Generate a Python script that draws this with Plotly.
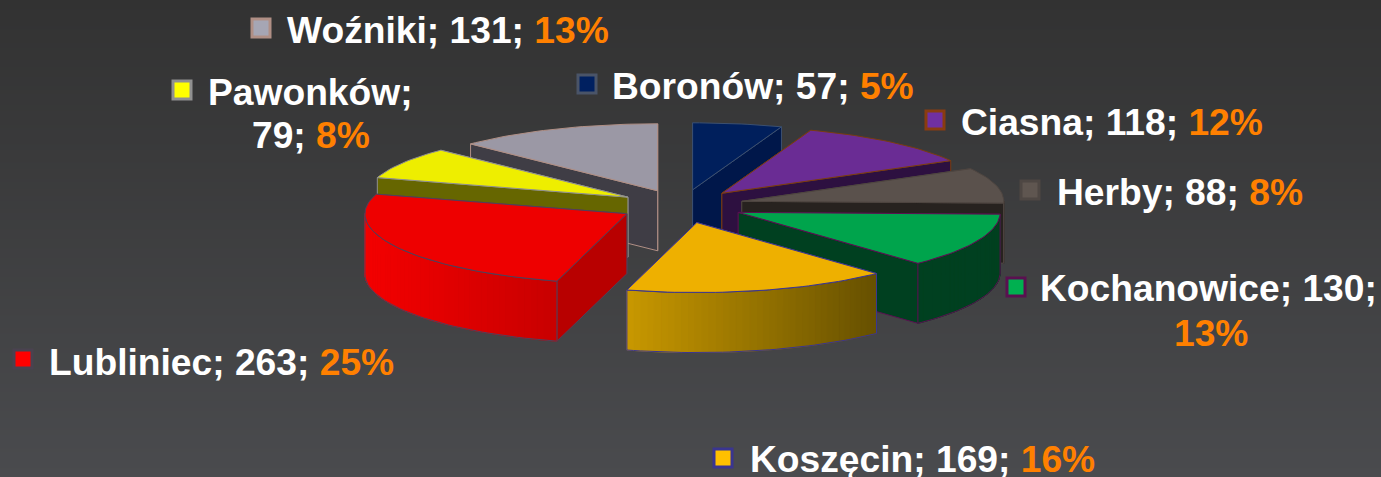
import math
import plotly.graph_objects as go

# ---------- data ----------
categories = ["Boronów", "Ciasna", "Herby", "Kochanowice", "Koszęcin", "Lubliniec", "Pawonków", "Woźniki"]
values = [57, 118, 88, 130, 169, 263, 79, 131]
percents = [5, 12, 8, 13, 16, 25, 8, 13]

# ---------- styles ----------
top_colors = ["#001f5c", "#6a2c94", "#5a514c", "#00a44c", "#eeb000", "#ee0000", "#eeee00", "#9b98a5"]
cut_colors = ["#00174a", "#2d1040", "#27221f", "#004020", "#8a6a00", "#b80000", "#666600", "#3f3d45"]
wall_left = ["#00174a", "#2d1040", "#27221f", "#004020", "#c89800", "#f40000", "#666600", "#3f3d45"]
wall_right = ["#00174a", "#2d1040", "#27221f", "#004020", "#665000", "#c80000", "#666600", "#3f3d45"]
edge_colors = ["#3c5070", "#7a3c10", "#4e4540", "#5a1050", "#3a3590", "#50405a", "#909090", "#b08f85"]
key_fill = ["#002060", "#7030a0", "#5f5650", "#00b050", "#ffc000", "#ff0000", "#ffff00", "#a6a6b4"]
key_edge = ["#4a5468", "#8a3c10", "#4e4743", "#5a1050", "#3a3590", "#4a4250", "#909090", "#b08f85"]
draw_order = [0, 7, 1, 2, 6, 3, 5, 4]

CX, CY = 682, 205
RX, RY_BACK, RY_FRONT = 262, 67, 70
DEPTH = 60
PULL_X_L, PULL_X_R, PULL_Y_BACK, PULL_Y_FRONT = 0.24, 0.235, 0.23, 0.27
FONT = "Liberation Sans, Arial, sans-serif"
SIZE = 37.2
ORANGE = "#ff8000"

# text lines per label: (x, y, anchor, parts) ; key position
label_layout = [
    (611, 86, "left", 587, 84),
    (960, 122, "left", 935, 120),
    (1056, 192, "left", 1030, 190),
    (None, None, None, 1016, 287),
    (749, 459, "left", 723, 458),
    (48, 362, "left", 23, 359),
    (None, None, None, 182, 90),
    (286, 30, "left", 261, 28),
]
wrapped_lines = {
    3: [(1208.5, 288, "Kochanowice; 130;", False), (1211, 333, "", True)],
    6: [(310.5, 92, "Pawonków;", False), (310.5, 135, "79; ", True)],
}

fig = go.Figure()

# background gradient
fig.add_trace(go.Heatmap(
    x=[0, 1381], y=[0, 477], z=[[0, 0], [1, 1]], zsmooth="best", showscale=False,
    colorscale=[[0, "#323232"], [1, "#4a4b4e"]], hoverinfo="skip"))


def poly(xs, ys, fill, line=None, width=1):
    fig.add_trace(go.Scatter(
        x=xs, y=ys, mode="lines", fill="toself", fillcolor=fill,
        line=dict(color=line or fill, width=width), hoverinfo="skip", showlegend=False))


def mix(a, b, t):
    ca = [int(a[i:i + 2], 16) for i in (1, 3, 5)]
    cb = [int(b[i:i + 2], 16) for i in (1, 3, 5)]
    return "#%02x%02x%02x" % tuple(round(p + (q - p) * t) for p, q in zip(ca, cb))


total = sum(values)
starts = []
acc = 0
for v in values:
    starts.append(acc / total * 2 * math.pi)
    acc += v

for i in draw_order:
    a0 = starts[i]
    a1 = a0 + values[i] / total * 2 * math.pi
    mid = (a0 + a1) / 2
    sm, cm = math.sin(mid), math.cos(mid)
    tx = CX + (PULL_X_L if sm < 0 else PULL_X_R) * RX * sm
    ty = CY - (PULL_Y_BACK if cm > 0 else PULL_Y_FRONT) * RY_BACK * cm
    px = lambda a: tx + RX * math.sin(a)
    py = lambda a: ty - (RY_BACK if math.cos(a) > 0 else RY_FRONT) * math.cos(a)
    n = max(8, int((a1 - a0) / math.radians(1.5)))
    angs = [a0 + (a1 - a0) * k / n for k in range(n + 1)]
    edge = edge_colors[i]

    # radial cut walls, far one first
    for a in sorted((a0, a1), key=lambda q: -math.cos(q)):
        poly([tx, px(a), px(a), tx, tx], [ty, py(a), py(a) + DEPTH, ty + DEPTH, ty], cut_colors[i], edge)

    # outer wall: only the part turned to the viewer
    front = [a for a in angs if math.cos(a) <= 0.02]
    if len(front) > 1:
        xl, xr = min(px(a) for a in front), max(px(a) for a in front)
        for a, b in zip(front[:-1], front[1:]):
            t = ((px(a) + px(b)) / 2 - xl) / max(xr - xl, 1)
            c = mix(wall_left[i], wall_right[i], t)
            poly([px(a), px(b), px(b), px(a), px(a)],
                 [py(a), py(b), py(b) + DEPTH, py(a) + DEPTH, py(a)], c)
        fig.add_trace(go.Scatter(
            x=[px(a) for a in front] + [px(a) for a in reversed(front)] + [px(front[0])],
            y=[py(a) + DEPTH for a in front] + [py(a) for a in reversed(front)] + [py(front[0]) + DEPTH],
            mode="lines", line=dict(color=edge, width=1), hoverinfo="skip", showlegend=False))

    # top face
    poly([tx] + [px(a) for a in angs] + [tx], [ty] + [py(a) for a in angs] + [ty], top_colors[i], edge)

# legend keys
for i, (lx, ly, anc, kx, ky) in enumerate(label_layout):
    fig.add_trace(go.Scatter(
        x=[kx], y=[ky], mode="markers", hoverinfo="skip", showlegend=False,
        marker=dict(symbol="square", size=18, color=key_fill[i], line=dict(color=key_edge[i], width=3))))

# labels
annotations = []


def add_text(x, y, anc, text):
    annotations.append(dict(
        x=x, y=y, xref="x", yref="y", text=f"<b>{text}</b>", showarrow=False, xanchor=anc, yanchor="middle",
        align="center", font=dict(family=FONT, size=SIZE, color="#ffffff"), borderpad=0))


for i, (lx, ly, anc, kx, ky) in enumerate(label_layout):
    pct = f'<span style="color:{ORANGE}">{percents[i]}%</span>'
    if i in wrapped_lines:
        for x, y, txt, with_pct in wrapped_lines[i]:
            add_text(x, y, "center", txt + (pct if with_pct else ""))
    else:
        add_text(lx, ly, anc, f"{categories[i]}; {values[i]}; {pct}")

fig.update_layout(
    width=1381, height=477, margin=dict(l=0, r=0, t=0, b=0), showlegend=False,
    paper_bgcolor="#3c3c3d", plot_bgcolor="#3c3c3d", annotations=annotations,
    xaxis=dict(range=[0, 1381], visible=False, fixedrange=True),
    yaxis=dict(range=[477, 0], visible=False, fixedrange=True),
)
fig.write_html("out.html", config={"displayModeBar": False},
               post_script="document.body.style.margin='0';document.body.style.overflow='hidden';")
